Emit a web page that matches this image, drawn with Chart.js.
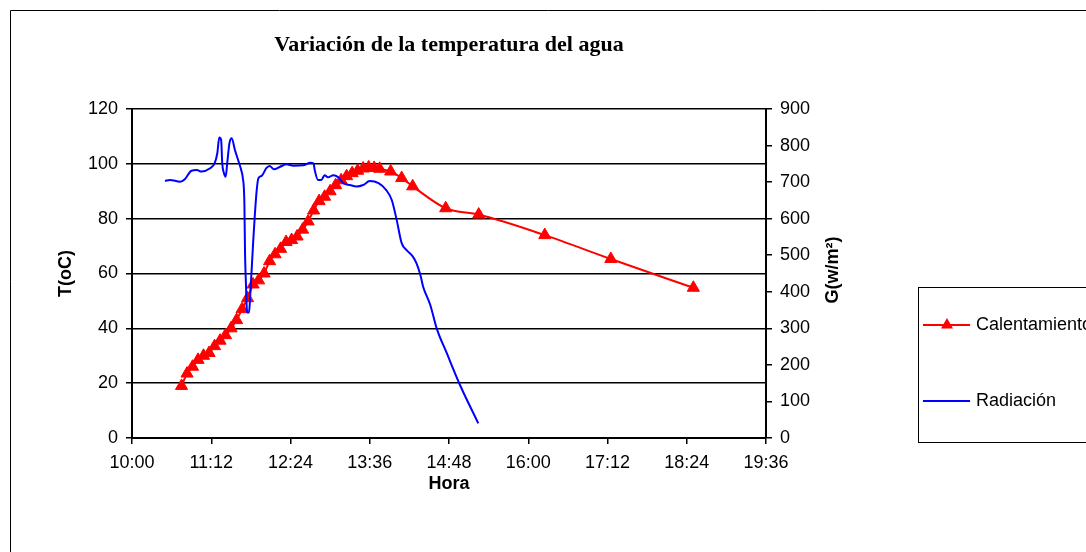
<!DOCTYPE html>
<html lang="es">
<head>
<meta charset="utf-8">
<title>Variación de la temperatura del agua</title>
<script src="https://cdn.jsdelivr.net/npm/chart.js@4.4.1/dist/chart.umd.min.js"></script>
<style>
  html, body { margin: 0; padding: 0; background: #fff; }
  canvas { display: block; }
</style>
</head>
<body>
<canvas id="grafico" width="1086" height="552"></canvas>
<script>
// ---------------- DATOS ----------------
// marcas del eje de tiempo
const horaTicks = ['10:00', '11:12', '12:24', '13:36', '14:48', '16:00', '17:12', '18:24', '19:36'];

// calentamiento (T en oC)
const horaCal = [
  '10:45', '10:50', '10:55', '11:00', '11:05', '11:10', '11:15', '11:20', '11:25', '11:30',
  '11:35', '11:40', '11:45', '11:50', '11:55', '12:00', '12:05', '12:10', '12:15', '12:20',
  '12:25', '12:30', '12:35', '12:40', '12:45', '12:50', '12:55', '13:00', '13:05', '13:10',
  '13:15', '13:20', '13:25', '13:30', '13:35', '13:40', '13:45', '13:55', '14:05', '14:15',
  '14:45', '15:15', '16:15', '17:15', '18:30'
];
const tempCal = [
  19, 23.5, 26, 28.5, 30, 31, 33.5, 35.5, 37.5, 40,
  43, 47, 51, 56, 57.5, 60, 64.5, 67, 69, 71.5,
  72.2, 73.5, 76, 79, 83, 86.4, 88, 90, 92.2, 94,
  95.5, 96.6, 97.5, 98.3, 98.7, 98.5, 98.2, 97.2, 94.8, 91.8,
  83.8, 81.5, 74, 65.3, 54.8
];

// radiación (G en w/m2), tiempo en minutos desde medianoche
const minutosRad = [
  630, 634.5, 643.6, 648, 654, 659, 663, 671, 675, 677.5,
  679.3, 681, 682, 683.5, 685.1, 686.5, 688.5, 690.6, 693.5, 697,
  699.5, 700.5, 702.1, 702.7, 703.6, 704.2, 704.8, 706.3, 707.2, 708.7,
  710.2, 711.7, 713.3, 714.8, 717.8, 722, 725, 729, 734.5, 740.5,
  746.5, 755.5, 762, 765, 766, 769, 772, 775, 778, 783,
  787.5, 792, 798, 804, 810, 816, 824, 831, 836, 840.5,
  845, 849.5, 855, 858.5, 862, 864.5, 871, 876.8, 886, 898,
  914.6
];
const radiacion = [
  703, 706, 701, 708, 731, 733, 729, 738, 751, 779,
  822, 815, 751, 725, 715, 751, 806, 820, 788, 755,
  730, 715, 642, 505, 414, 359, 343, 343, 378, 460,
  542, 615, 678, 710, 717, 738, 744, 735, 742, 749,
  745, 746, 753, 751, 733, 706, 706, 719, 713, 719,
  713, 697, 692, 688, 692, 703, 697, 678, 651, 596,
  533, 514, 497, 478, 446, 414, 364, 300, 232, 145,
  40
];

// ---------------- AUXILIARES ----------------
const aMinutos = h => {
  const [hh, mm] = h.split(':').map(Number);
  return hh * 60 + mm;
};

const aHora = v => {
  const hh = Math.floor(v / 60);
  const mm = Math.round(v - hh * 60);
  return hh + ':' + String(mm).padStart(2, '0');
};

const fuente = '"Liberation Sans", Arial, sans-serif';

// ---------------- MARCO, TITULO DERECHO Y LEYENDA ----------------
const marco = {
  id: 'marco',
  afterDraw(chart) {
    const ctx = chart.ctx;
    ctx.save();

    // borde exterior
    ctx.strokeStyle = '#000';
    ctx.lineWidth = 1;
    ctx.beginPath();
    ctx.moveTo(10.5, 552);
    ctx.lineTo(10.5, 10.5);
    ctx.lineTo(1086, 10.5);
    ctx.stroke();

    // titulo del eje derecho
    ctx.save();
    ctx.translate(833, 270);
    ctx.rotate(-Math.PI / 2);
    ctx.fillStyle = '#000';
    ctx.font = 'bold 18px ' + fuente;
    ctx.textAlign = 'center';
    ctx.textBaseline = 'middle';
    ctx.fillText('G(w/m²)', 0, 0);
    ctx.restore();

    // leyenda
    ctx.lineWidth = 1;
    ctx.strokeStyle = '#000';
    ctx.strokeRect(918.5, 287.5, 200, 155);

    const filas = [325, 401];
    const orden = [1, 0];
    ctx.font = '18px ' + fuente;
    ctx.textAlign = 'left';
    ctx.textBaseline = 'middle';

    orden.forEach((i, n) => {
      const ds = chart.data.datasets[i];
      const y = filas[n];

      ctx.strokeStyle = ds.borderColor;
      ctx.lineWidth = 2;
      ctx.beginPath();
      ctx.moveTo(923, y);
      ctx.lineTo(970, y);
      ctx.stroke();

      if (ds.pointRadius > 0) {
        const r = ds.pointRadius;
        ctx.fillStyle = ds.backgroundColor;
        ctx.beginPath();
        ctx.moveTo(947, y - r);
        ctx.lineTo(947 + r * 0.866, y + r / 2);
        ctx.lineTo(947 - r * 0.866, y + r / 2);
        ctx.closePath();
        ctx.fill();
      }

      ctx.fillStyle = '#000';
      ctx.fillText(ds.label, 976, y);
    });

    ctx.restore();
  }
};

// ---------------- GRAFICO ----------------
new Chart(
  document.getElementById('grafico'),
  {
    type: 'line',

    data: {
      datasets: [
        {
          label: 'Radiación',
          yAxisID: 'yG',
          data: minutosRad.map((m, i) => ({ x: m, y: radiacion[i] })),
          borderColor: '#0000ff',
          backgroundColor: '#0000ff',
          borderWidth: 2,
          pointRadius: 0,
          cubicInterpolationMode: 'monotone',
          order: 1
        },
        {
          label: 'Calentamiento',
          yAxisID: 'yT',
          data: horaCal.map((h, i) => ({ x: aMinutos(h), y: tempCal[i] })),
          borderColor: '#ff0000',
          backgroundColor: '#ff0000',
          borderWidth: 2,
          pointStyle: 'triangle',
          pointRadius: 7,
          pointBorderWidth: 1,
          cubicInterpolationMode: 'monotone',
          order: 2
        }
      ]
    },

    options: {
      responsive: false,
      animation: false,
      events: [],

      layout: {
        padding: { left: 0, right: 230, top: 0, bottom: 54 }
      },

      plugins: {
        legend: { display: false },
        tooltip: { enabled: false },
        title: {
          display: true,
          fullSize: false,
          text: 'Variación de la temperatura del agua',
          color: '#000',
          font: { family: '"Liberation Serif", "Times New Roman", serif', size: 22, weight: 'bold' },
          padding: { top: 32, bottom: 50.6 }
        }
      },

      scales: {
        x: {
          type: 'linear',
          min: aMinutos(horaTicks[0]),
          max: aMinutos(horaTicks[horaTicks.length - 1]),
          afterBuildTicks: s => {
            s.ticks = horaTicks.map(h => ({ value: aMinutos(h) }));
          },
          afterFit: s => { s.height = 60; },
          ticks: {
            callback: v => aHora(v),
            color: '#000',
            font: { family: fuente, size: 18 },
            padding: 8,
            maxRotation: 0,
            autoSkip: false
          },
          grid: { drawOnChartArea: false, drawTicks: true, tickLength: 6, color: '#000', lineWidth: 1.5 },
          border: { display: true, color: '#000', width: 2 },
          title: {
            display: true,
            text: 'Hora',
            color: '#000',
            font: { family: fuente, size: 18, weight: 'bold' },
            padding: { top: 0, bottom: 3 }
          }
        },

        yT: {
          position: 'left',
          min: 0,
          max: 120,
          afterFit: s => { s.width = 132; },
          ticks: {
            stepSize: 20,
            color: '#000',
            font: { family: fuente, size: 18 },
            padding: 8
          },
          grid: { color: '#000', lineWidth: 1.5, tickLength: 6 },
          border: { display: true, color: '#000', width: 2 },
          title: {
            display: true,
            text: 'T(oC)',
            color: '#000',
            font: { family: fuente, size: 18, weight: 'bold' },
            padding: { top: 55, bottom: 0 }
          }
        },

        yG: {
          position: 'right',
          min: 0,
          max: 900,
          afterFit: s => { s.width = 90; },
          ticks: {
            stepSize: 100,
            color: '#000',
            font: { family: fuente, size: 18 },
            padding: 8
          },
          grid: { drawOnChartArea: false, drawTicks: true, tickLength: 6, color: '#000', lineWidth: 1.5 },
          border: { display: true, color: '#000', width: 2 }
        }
      }
    },

    plugins: [marco]
  }
);
</script>
</body>
</html>
